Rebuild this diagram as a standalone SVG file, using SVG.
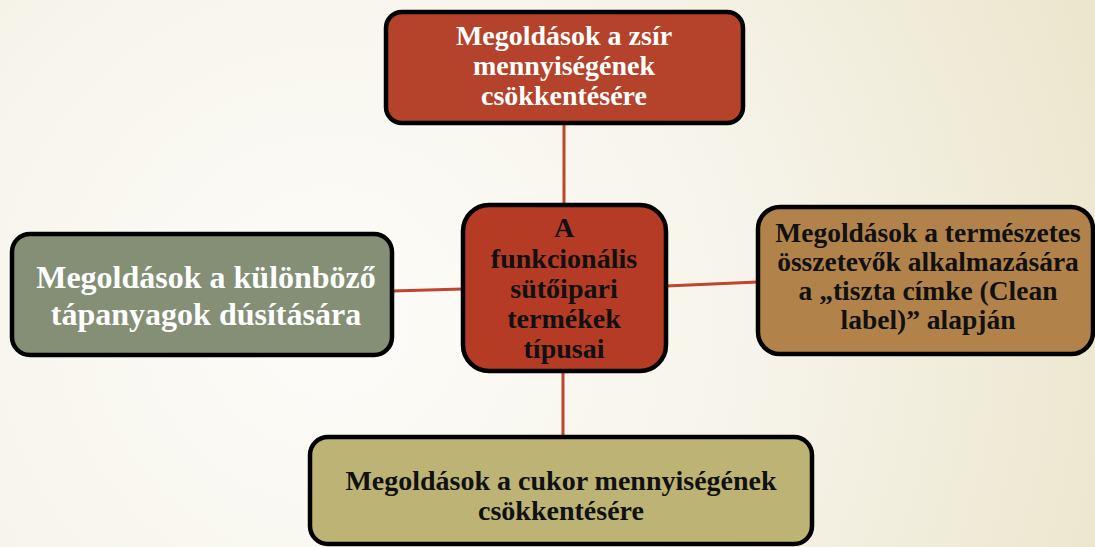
<svg xmlns="http://www.w3.org/2000/svg" width="1095" height="547" viewBox="0 0 1095 547">
<defs>
<radialGradient id="bg" cx="330" cy="320" r="850" gradientUnits="userSpaceOnUse">
<stop offset="0" stop-color="#FDFCF9"/>
<stop offset="0.5" stop-color="#F6F4EA"/>
<stop offset="1" stop-color="#EAE5CB"/>
</radialGradient>
<style>
.box{stroke:#000;stroke-width:4.5}
.t{font-family:"Liberation Serif","Times New Roman",serif;font-weight:bold;text-anchor:middle}
.w{fill:#fff}
.k{fill:#111}
.c{stroke:#C0452F;stroke-width:3;fill:none}
</style>
</defs>
<rect width="1095" height="547" fill="url(#bg)"/>
<g id="connectors">
<line class="c" x1="564" y1="123" x2="564" y2="205"/>
<line class="c" x1="392" y1="291" x2="463" y2="289"/>
<line class="c" x1="666" y1="286" x2="758" y2="282"/>
<line class="c" x1="563" y1="371" x2="563" y2="437"/>
</g>
<g id="node-top">
<rect class="box" x="386" y="12" width="357" height="111" rx="16" fill="#B5422A"/>
<text class="t w" font-size="28" x="564"><tspan x="564" y="45">Megoldások a zsír</tspan><tspan x="564" y="75">mennyiségének</tspan><tspan x="564" y="105">csökkentésére</tspan></text>
</g>
<g id="node-center">
<rect class="box" x="463" y="205" width="203" height="166" rx="26" fill="#B53B25"/>
<text class="t k" font-size="28"><tspan x="564" y="237">A</tspan><tspan x="564" y="268">funkcionális</tspan><tspan x="564" y="298">sütőipari</tspan><tspan x="564" y="328">termékek</tspan><tspan x="564" y="358">típusai</tspan></text>
</g>
<g id="node-left">
<rect class="box" x="12" y="234" width="380" height="121" rx="18" fill="#848F76"/>
<text class="t w" font-size="32"><tspan x="206" y="288">Megoldások a különböző</tspan><tspan x="206" y="325">tápanyagok dúsítására</tspan></text>
</g>
<g id="node-right">
<rect class="box" x="758" y="207" width="335" height="147" rx="22" fill="#B1834A"/>
<text class="t k" font-size="27.5"><tspan x="928" y="242">Megoldások a természetes</tspan><tspan x="928" y="271">összetevők alkalmazására</tspan><tspan x="928" y="300">a „tiszta címke (Clean</tspan><tspan x="928" y="329">label)” alapján</tspan></text>
</g>
<g id="node-bottom">
<rect class="box" x="310" y="437" width="502" height="107" rx="18" fill="#BCB375"/>
<text class="t k" font-size="28"><tspan x="561" y="490">Megoldások a cukor mennyiségének</tspan><tspan x="561" y="520">csökkentésére</tspan></text>
</g>
</svg>
